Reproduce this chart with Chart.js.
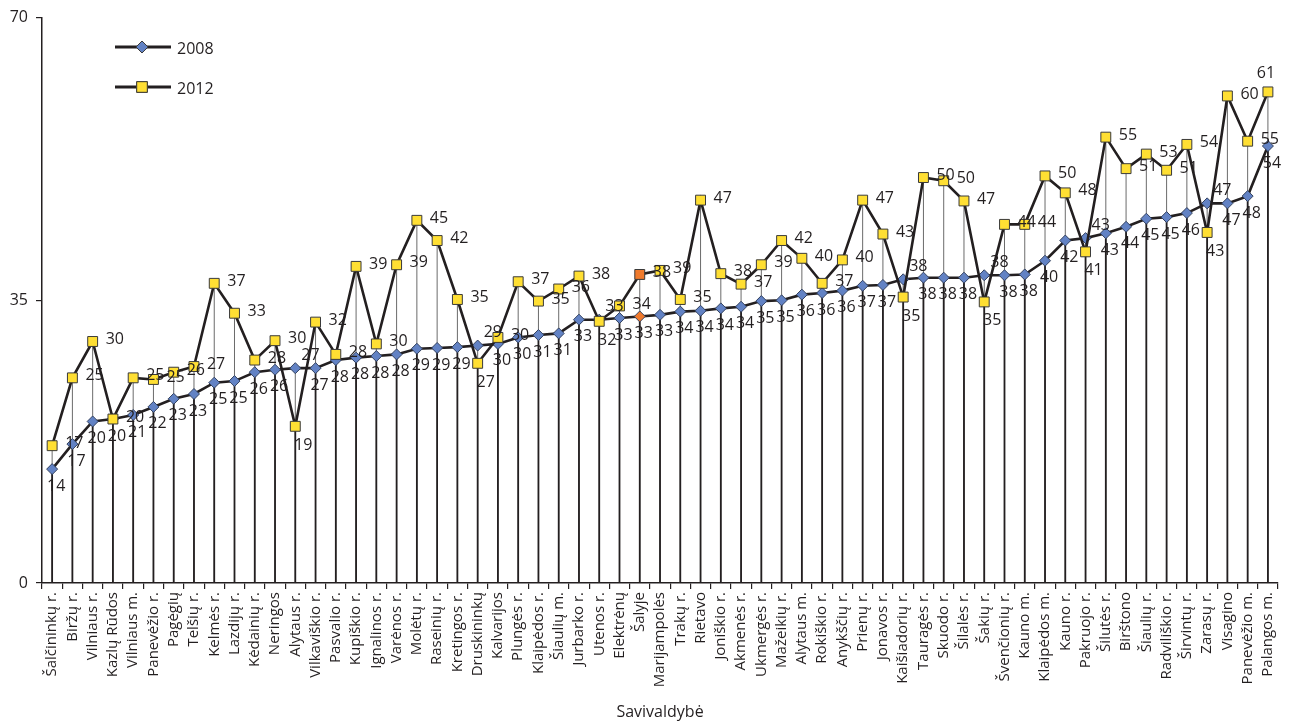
<!DOCTYPE html>
<html>
<head>
<meta charset="utf-8">
<script src="https://cdn.jsdelivr.net/npm/chart.js@4.4.1/dist/chart.umd.min.js"></script>
<style>
  html, body { margin: 0; padding: 0; background: #fff; }
</style>
</head>
<body>
<canvas id="chart" width="1289" height="725"></canvas>
<script>
/* ---------- DATA ---------- */
const categories = [
  "Šalčininkų r.", "Biržų r.", "Vilniaus r.", "Kazlų Rūdos", "Vilniaus m.",
  "Panevėžio r.", "Pagėgių", "Telšių r.", "Kelmės r.", "Lazdijų r.",
  "Kėdainių r.", "Neringos", "Alytaus r.", "Vilkaviškio r.", "Pasvalio r.",
  "Kupiškio r.", "Ignalinos r.", "Varėnos r.", "Molėtų r.", "Raseinių r.",
  "Kretingos r.", "Druskininkų", "Kalvarijos", "Plungės r.", "Klaipėdos r.",
  "Šiaulių m.", "Jurbarko r.", "Utenos r.", "Elektrėnų", "Šalyje",
  "Marijampolės", "Trakų r.", "Rietavo", "Joniškio r.", "Akmenės r.",
  "Ukmergės r.", "Mažeikių r.", "Alytaus m.", "Rokiškio r.", "Anykščių r.",
  "Prienų r.", "Jonavos r.", "Kaišiadorių r.", "Tauragės r.", "Skuodo r.",
  "Šilalės r.", "Šakių r.", "Švenčionių r.", "Kauno m.", "Klaipėdos m.",
  "Kauno r.", "Pakruojo r.", "Šilutės r.", "Birštono", "Šiaulių r.",
  "Radviliškio r.", "Širvintų r.", "Zarasų r.", "Visagino", "Panevėžio m.",
  "Palangos m."
];

const values2008 = [
  14.1, 17.2, 20.0, 20.3, 20.8, 21.8, 22.8, 23.4, 24.8, 25.0,
  26.1, 26.4, 26.6, 26.6, 27.6, 27.9, 28.1, 28.3, 29.0, 29.1,
  29.2, 29.4, 29.6, 30.4, 30.7, 30.9, 32.6, 32.6, 32.8, 33.0,
  33.2, 33.6, 33.7, 34.0, 34.2, 34.9, 35.0, 35.7, 35.9, 36.2,
  36.8, 36.9, 37.6, 37.8, 37.8, 37.8, 38.1, 38.1, 38.2, 39.9,
  42.4, 42.7, 43.3, 44.1, 45.1, 45.3, 45.8, 47.0, 47.0, 47.9,
  54.1
];

const values2012 = [
  17.0, 25.4, 29.9, 20.3, 25.4, 25.2, 26.1, 26.8, 37.1, 33.4,
  27.6, 30.0, 19.4, 32.3, 28.3, 39.2, 29.6, 39.4, 44.9, 42.4,
  35.1, 27.2, 30.4, 37.3, 34.9, 36.4, 38.0, 32.4, 34.3, 38.2,
  38.7, 35.1, 47.4, 38.3, 37.0, 39.4, 42.4, 40.2, 37.1, 40.0,
  47.4, 43.2, 35.4, 50.2, 49.8, 47.3, 34.8, 44.4, 44.4, 50.4,
  48.3, 41.0, 55.2, 51.3, 53.1, 51.1, 54.3, 43.4, 60.3, 54.7,
  60.8
];

const yTicks = [0, 35, 70];
const seriesNames = ["2008", "2012"];
const highlighted = "Šalyje";

/* ---------- STYLE ---------- */
const INK = "#231f20";
const BLUE = "#6282c4";
const YELLOW = "#ffdf33";
const ORANGE = "#f07a2c";
const FONT = "'Open Sans', 'Noto Sans', sans-serif";

const fillFor = base => ctx =>
  categories[ctx.dataIndex] === highlighted ? ORANGE : base;

/* ---------- PLUGINS ---------- */
const dropLines = {
  id: "dropLines",
  beforeDatasetsDraw(chart) {
    const a = chart.getDatasetMeta(0).data;
    const b = chart.getDatasetMeta(1).data;
    const bottom = chart.chartArea.bottom;
    const c = chart.ctx;
    c.save();
    a.forEach((p, i) => {
      const top = Math.min(p.y, b[i].y);
      const low = Math.max(p.y, b[i].y);
      c.beginPath();
      c.strokeStyle = "#6b6b6b";
      c.lineWidth = 1;
      c.moveTo(p.x, top);
      c.lineTo(p.x, bottom);
      c.stroke();
      c.beginPath();
      c.strokeStyle = INK;
      c.lineWidth = 1.8;
      c.moveTo(p.x, low);
      c.lineTo(p.x, bottom);
      c.stroke();
    });
    c.restore();
  }
};

const valueLabels = {
  id: "valueLabels",
  afterDatasetsDraw(chart) {
    const a = chart.getDatasetMeta(0).data;
    const b = chart.getDatasetMeta(1).data;
    const c = chart.ctx;
    c.save();
    c.font = "16px " + FONT;
    c.fillStyle = INK;
    c.textBaseline = "middle";
    a.forEach((p, i) => {
      const q = b[i];
      const lower2012 = values2012[i] < values2008[i];
      const t08 = String(Math.round(values2008[i]));
      const t12 = String(Math.round(values2012[i]));
      // 2008
      if (lower2012) {
        c.textAlign = "left";
        c.fillText(t08, p.x + 6, p.y - 13);
      } else {
        c.textAlign = "center";
        c.fillText(t08, p.x + 4, p.y + 17);
      }
      // 2012
      if (lower2012) {
        c.textAlign = "center";
        c.fillText(t12, q.x + 8, q.y + 19);
      } else if (q.x + 13 + c.measureText(t12).width > chart.width - 4) {
        c.textAlign = "center";
        c.fillText(t12, q.x - 2, q.y - 18);
      } else {
        c.textAlign = "left";
        c.fillText(t12, q.x + 13, q.y - 2);
      }
    });
    c.restore();
  }
};

const manualLegend = {
  id: "manualLegend",
  afterDraw(chart) {
    const c = chart.ctx;
    const items = [
      { name: seriesNames[0], y: 47, style: "rectRot", r: 6, fill: BLUE },
      { name: seriesNames[1], y: 87, style: "rect", r: 7.5, fill: YELLOW }
    ];
    c.save();
    items.forEach(it => {
      c.beginPath();
      c.strokeStyle = INK;
      c.lineWidth = 3;
      c.moveTo(115, it.y);
      c.lineTo(171, it.y);
      c.stroke();
      c.fillStyle = it.fill;
      c.strokeStyle = "#3a3a3a";
      c.lineWidth = 1;
      Chart.helpers.drawPoint(c, { pointStyle: it.style, radius: it.r, borderWidth: 1 }, 142, it.y);
      c.fill();
      c.stroke();
      c.fillStyle = INK;
      c.font = "16px " + FONT;
      c.textAlign = "left";
      c.textBaseline = "middle";
      c.fillText(it.name, 177, it.y + 2);
    });
    c.restore();
  }
};

/* ---------- CHART ---------- */
const ctx = document.getElementById("chart").getContext("2d");

new Chart(ctx, {
  type: "line",
  data: {
    labels: categories,
    datasets: [
      {
        label: seriesNames[0],
        data: values2008,
        borderColor: INK,
        borderWidth: 2.6,
        pointStyle: "rectRot",
        pointRadius: 5.5,
        pointBackgroundColor: fillFor(BLUE),
        pointBorderColor: "#33415e",
        pointBorderWidth: 1,
        tension: 0,
        order: 2
      },
      {
        label: seriesNames[1],
        data: values2012,
        borderColor: INK,
        borderWidth: 2.6,
        pointStyle: "rect",
        pointRadius: 7,
        pointBackgroundColor: fillFor(YELLOW),
        pointBorderColor: "#3a3a3a",
        pointBorderWidth: 1,
        tension: 0,
        order: 1
      }
    ]
  },
  options: {
    responsive: false,
    animation: false,
    layout: { padding: { top: 14, right: 10, left: 0, bottom: 0 } },
    plugins: {
      legend: { display: false },
      tooltip: { enabled: false }
    },
    scales: {
      x: {
        offset: true,
        grid: {
          offset: true,
          drawOnChartArea: false,
          tickLength: 6,
          color: INK,
          lineWidth: 1.2
        },
        border: { color: INK, width: 1.5 },
        ticks: {
          autoSkip: false,
          minRotation: 90,
          maxRotation: 90,
          padding: 3,
          color: INK,
          font: { family: FONT, size: 15 }
        },
        title: {
          display: true,
          text: "Savivaldybė",
          color: INK,
          font: { family: FONT, size: 16 },
          padding: { top: 4, bottom: 3 }
        },
        afterFit(scale) { scale.height = 142; }
      },
      y: {
        min: 0,
        max: 70,
        afterBuildTicks(scale) {
          scale.ticks = yTicks.map(v => ({ value: v }));
        },
        grid: {
          drawOnChartArea: false,
          tickLength: 6,
          color: INK,
          lineWidth: 1.2
        },
        border: { color: INK, width: 1.5 },
        ticks: {
          padding: 8,
          color: INK,
          font: { family: FONT, size: 16 }
        },
        afterFit(scale) { scale.width = 42; }
      }
    }
  },
  plugins: [dropLines, valueLabels, manualLegend]
});
</script>
</body>
</html>
